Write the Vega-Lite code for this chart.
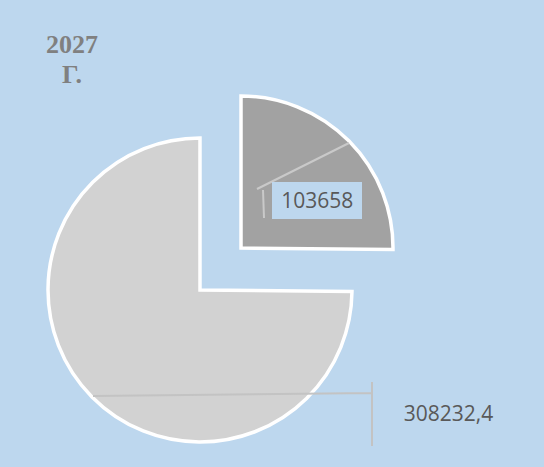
{
  "$schema": "https://vega.github.io/schema/vega-lite/v6.json",
  "width": 535,
  "height": 460,
  "autosize": "none",
  "padding": {"left": 9, "top": 7, "right": 0, "bottom": 0},
  "background": "#BDD7EE",
  "title": {
    "text": ["2027", "Г."],
    "anchor": "start",
    "align": "center",
    "frame": "group",
    "dx": 63,
    "offset": -81,
    "baseline": "top",
    "font": "Liberation Serif",
    "fontSize": 26,
    "fontWeight": "bold",
    "color": "#808080",
    "lineHeight": 30
  },
  "data": {
    "values": [
      {"name": "A", "value": 103658, "label": "103658"},
      {"name": "B", "value": 308232.4, "label": "308232,4"}
    ]
  },
  "encoding": {
    "theta": {"field": "value", "type": "quantitative", "stack": true, "scale": {"domain": [0, 411890.4]}}
  },
  "layer": [
    {
      "transform": [{"filter": "datum.name == 'B'"}],
      "mark": {"type": "arc", "outerRadius": 152, "thetaOffset": 1.5812, "fill": "#D2D2D2", "stroke": "white", "strokeWidth": 3.5, "xOffset": -76.5, "yOffset": 53}
    },
    {
      "transform": [{"filter": "datum.name == 'A'"}],
      "mark": {"type": "arc", "outerRadius": 152, "fill": "#A2A2A2", "stroke": "white", "strokeWidth": 3.5, "xOffset": -35.5, "yOffset": 11}
    },
    {
      "transform": [{"filter": "datum.name == 'A'"}],
      "mark": {"type": "point", "filled": false, "fill": null, "shape": "M-60.5,-13.5L31.5,-59.5M-54.5,-12.5L-53.5,15.5", "size": 4, "stroke": "#C9C9C9", "strokeWidth": 2, "opacity": 1, "xOffset": 41, "yOffset": -34.5},
      "encoding": {"theta": null}
    },
    {
      "transform": [{"filter": "datum.name == 'A'"}],
      "mark": {"type": "point", "filled": true, "shape": "M-45,-18.5H45V18.5H-45Z", "size": 4, "fill": "#BDD7EE", "opacity": 1, "strokeWidth": 0, "xOffset": 40.5, "yOffset": -36.5},
      "encoding": {"theta": null}
    },
    {
      "transform": [{"filter": "datum.name == 'B'"}],
      "mark": {"type": "point", "filled": false, "fill": null, "shape": "M-355.5,-18.5L-76.5,-21.5M-76.5,-32.5L-76.5,31.5", "size": 4, "stroke": "#C3C3C3", "strokeWidth": 2, "opacity": 1, "xOffset": 172, "yOffset": 177.5},
      "encoding": {"theta": null}
    },
    {
      "transform": [{"filter": "datum.name == 'A'"}],
      "mark": {"type": "text", "font": "Open Sans", "fontSize": 21, "color": "#595959", "radius": 89, "xOffset": -35.5, "yOffset": 11, "dx": 13, "dy": 17, "baseline": "middle", "align": "center"},
      "encoding": {"text": {"field": "label"}}
    },
    {
      "transform": [{"filter": "datum.name == 'B'"}],
      "mark": {"type": "text", "font": "Open Sans", "fontSize": 21, "color": "#595959", "radius": 0, "xOffset": -76.5, "yOffset": 53, "dx": 248.5, "dy": 124.5, "baseline": "middle", "align": "center"},
      "encoding": {"text": {"field": "label"}}
    }
  ]
}
